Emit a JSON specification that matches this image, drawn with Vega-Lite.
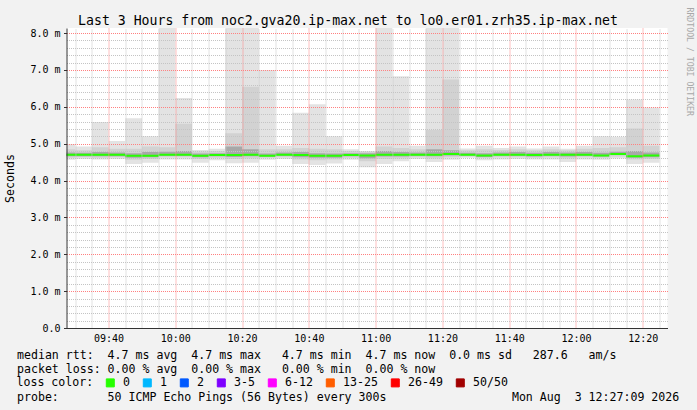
{
  "$schema": "https://vega.github.io/schema/vega-lite/v6.json",
  "width": 601,
  "height": 300,
  "autosize": {"type": "none"},
  "padding": {"left": 66.5, "top": 28, "right": 29.5, "bottom": 82},
  "background": "#f2f2f2",
  "data": {
    "values": [
      {"start": "2026-08-03T09:25:00", "end": "2026-08-03T09:30:00", "min": 4.56, "p10": 4.62, "p25": 4.66, "med": 4.70, "p75": 4.76, "p90": 4.85, "max": 4.99, "loss": "0"},
      {"start": "2026-08-03T09:30:00", "end": "2026-08-03T09:35:00", "min": 4.58, "p10": 4.63, "p25": 4.66, "med": 4.70, "p75": 4.75, "p90": 4.82, "max": 4.92, "loss": "0"},
      {"start": "2026-08-03T09:35:00", "end": "2026-08-03T09:40:00", "min": 4.57, "p10": 4.62, "p25": 4.66, "med": 4.70, "p75": 4.77, "p90": 4.90, "max": 5.59, "loss": "0"},
      {"start": "2026-08-03T09:40:00", "end": "2026-08-03T09:45:00", "min": 4.58, "p10": 4.63, "p25": 4.66, "med": 4.70, "p75": 4.76, "p90": 4.86, "max": 5.07, "loss": "0"},
      {"start": "2026-08-03T09:45:00", "end": "2026-08-03T09:50:00", "min": 4.45, "p10": 4.56, "p25": 4.62, "med": 4.67, "p75": 4.74, "p90": 4.86, "max": 5.69, "loss": "0"},
      {"start": "2026-08-03T09:50:00", "end": "2026-08-03T09:55:00", "min": 4.48, "p10": 4.58, "p25": 4.63, "med": 4.67, "p75": 4.77, "p90": 4.92, "max": 5.20, "loss": "0"},
      {"start": "2026-08-03T09:55:00", "end": "2026-08-03T10:00:00", "min": 4.57, "p10": 4.63, "p25": 4.67, "med": 4.70, "p75": 4.78, "p90": 4.90, "max": 8.60, "loss": "0"},
      {"start": "2026-08-03T10:00:00", "end": "2026-08-03T10:05:00", "min": 4.57, "p10": 4.63, "p25": 4.67, "med": 4.70, "p75": 4.80, "p90": 5.54, "max": 6.24, "loss": "0"},
      {"start": "2026-08-03T10:05:00", "end": "2026-08-03T10:10:00", "min": 4.48, "p10": 4.58, "p25": 4.63, "med": 4.67, "p75": 4.73, "p90": 4.79, "max": 4.83, "loss": "0"},
      {"start": "2026-08-03T10:10:00", "end": "2026-08-03T10:15:00", "min": 4.55, "p10": 4.62, "p25": 4.66, "med": 4.69, "p75": 4.74, "p90": 4.80, "max": 4.86, "loss": "0"},
      {"start": "2026-08-03T10:15:00", "end": "2026-08-03T10:20:00", "min": 4.47, "p10": 4.58, "p25": 4.64, "med": 4.69, "p75": 4.92, "p90": 5.28, "max": 8.60, "loss": "0"},
      {"start": "2026-08-03T10:20:00", "end": "2026-08-03T10:25:00", "min": 4.48, "p10": 4.60, "p25": 4.66, "med": 4.70, "p75": 4.85, "p90": 6.54, "max": 8.60, "loss": "0"},
      {"start": "2026-08-03T10:25:00", "end": "2026-08-03T10:30:00", "min": 4.56, "p10": 4.62, "p25": 4.65, "med": 4.67, "p75": 4.73, "p90": 4.85, "max": 7.00, "loss": "0"},
      {"start": "2026-08-03T10:30:00", "end": "2026-08-03T10:35:00", "min": 4.58, "p10": 4.63, "p25": 4.67, "med": 4.70, "p75": 4.76, "p90": 4.85, "max": 4.94, "loss": "0"},
      {"start": "2026-08-03T10:35:00", "end": "2026-08-03T10:40:00", "min": 4.45, "p10": 4.57, "p25": 4.63, "med": 4.69, "p75": 4.77, "p90": 4.88, "max": 5.84, "loss": "0"},
      {"start": "2026-08-03T10:40:00", "end": "2026-08-03T10:45:00", "min": 4.42, "p10": 4.55, "p25": 4.62, "med": 4.67, "p75": 4.74, "p90": 4.86, "max": 6.07, "loss": "0"},
      {"start": "2026-08-03T10:45:00", "end": "2026-08-03T10:50:00", "min": 4.46, "p10": 4.57, "p25": 4.62, "med": 4.67, "p75": 4.73, "p90": 4.85, "max": 5.20, "loss": "0"},
      {"start": "2026-08-03T10:50:00", "end": "2026-08-03T10:55:00", "min": 4.56, "p10": 4.62, "p25": 4.66, "med": 4.69, "p75": 4.74, "p90": 4.80, "max": 4.85, "loss": "0"},
      {"start": "2026-08-03T10:55:00", "end": "2026-08-03T11:00:00", "min": 4.36, "p10": 4.52, "p25": 4.60, "med": 4.68, "p75": 4.74, "p90": 4.78, "max": 4.80, "loss": "0"},
      {"start": "2026-08-03T11:00:00", "end": "2026-08-03T11:05:00", "min": 4.45, "p10": 4.58, "p25": 4.65, "med": 4.70, "p75": 4.80, "p90": 4.92, "max": 8.60, "loss": "0"},
      {"start": "2026-08-03T11:05:00", "end": "2026-08-03T11:10:00", "min": 4.52, "p10": 4.60, "p25": 4.65, "med": 4.70, "p75": 4.77, "p90": 4.88, "max": 6.83, "loss": "0"},
      {"start": "2026-08-03T11:10:00", "end": "2026-08-03T11:15:00", "min": 4.58, "p10": 4.63, "p25": 4.67, "med": 4.70, "p75": 4.76, "p90": 4.85, "max": 4.94, "loss": "0"},
      {"start": "2026-08-03T11:15:00", "end": "2026-08-03T11:20:00", "min": 4.50, "p10": 4.60, "p25": 4.66, "med": 4.70, "p75": 4.85, "p90": 5.37, "max": 8.60, "loss": "0"},
      {"start": "2026-08-03T11:20:00", "end": "2026-08-03T11:25:00", "min": 4.56, "p10": 4.63, "p25": 4.68, "med": 4.72, "p75": 4.82, "p90": 6.74, "max": 8.60, "loss": "0"},
      {"start": "2026-08-03T11:25:00", "end": "2026-08-03T11:30:00", "min": 4.62, "p10": 4.65, "p25": 4.68, "med": 4.70, "p75": 4.75, "p90": 4.82, "max": 4.87, "loss": "0"},
      {"start": "2026-08-03T11:30:00", "end": "2026-08-03T11:35:00", "min": 4.55, "p10": 4.61, "p25": 4.64, "med": 4.68, "p75": 4.74, "p90": 4.85, "max": 4.94, "loss": "0"},
      {"start": "2026-08-03T11:35:00", "end": "2026-08-03T11:40:00", "min": 4.57, "p10": 4.63, "p25": 4.67, "med": 4.70, "p75": 4.76, "p90": 4.83, "max": 4.88, "loss": "0"},
      {"start": "2026-08-03T11:40:00", "end": "2026-08-03T11:45:00", "min": 4.58, "p10": 4.63, "p25": 4.67, "med": 4.70, "p75": 4.77, "p90": 4.85, "max": 4.92, "loss": "0"},
      {"start": "2026-08-03T11:45:00", "end": "2026-08-03T11:50:00", "min": 4.57, "p10": 4.62, "p25": 4.65, "med": 4.69, "p75": 4.75, "p90": 4.82, "max": 4.87, "loss": "0"},
      {"start": "2026-08-03T11:50:00", "end": "2026-08-03T11:55:00", "min": 4.57, "p10": 4.63, "p25": 4.67, "med": 4.70, "p75": 4.77, "p90": 4.85, "max": 4.92, "loss": "0"},
      {"start": "2026-08-03T11:55:00", "end": "2026-08-03T12:00:00", "min": 4.50, "p10": 4.60, "p25": 4.65, "med": 4.70, "p75": 4.76, "p90": 4.82, "max": 4.86, "loss": "0"},
      {"start": "2026-08-03T12:00:00", "end": "2026-08-03T12:05:00", "min": 4.57, "p10": 4.63, "p25": 4.67, "med": 4.70, "p75": 4.77, "p90": 4.86, "max": 4.94, "loss": "0"},
      {"start": "2026-08-03T12:05:00", "end": "2026-08-03T12:10:00", "min": 4.56, "p10": 4.62, "p25": 4.65, "med": 4.68, "p75": 4.75, "p90": 4.88, "max": 5.20, "loss": "0"},
      {"start": "2026-08-03T12:10:00", "end": "2026-08-03T12:15:00", "min": 4.60, "p10": 4.65, "p25": 4.69, "med": 4.72, "p75": 4.78, "p90": 4.90, "max": 5.19, "loss": "0"},
      {"start": "2026-08-03T12:15:00", "end": "2026-08-03T12:20:00", "min": 4.45, "p10": 4.57, "p25": 4.62, "med": 4.66, "p75": 4.80, "p90": 5.41, "max": 6.20, "loss": "0"},
      {"start": "2026-08-03T12:20:00", "end": "2026-08-03T12:25:00", "min": 4.48, "p10": 4.58, "p25": 4.63, "med": 4.68, "p75": 4.76, "p90": 4.94, "max": 5.98, "loss": "0"}
    ]
  },
  "layer": [
    {
      "mark": {"type": "bar", "color": "#e3e3e3", "clip": true},
      "encoding": {
        "x": {
          "field": "start", "type": "temporal",
          "scale": {"domain": [{"year": 2026, "month": 8, "date": 3, "hours": 9, "minutes": 27, "seconds": 25}, {"year": 2026, "month": 8, "date": 3, "hours": 12, "minutes": 27, "seconds": 25}]},
          "axis": {
            "orient": "top",
            "values": [
              {"year": 2026, "month": 8, "date": 3, "hours": 9, "minutes": 30},
              {"year": 2026, "month": 8, "date": 3, "hours": 9, "minutes": 35},
              {"year": 2026, "month": 8, "date": 3, "hours": 9, "minutes": 45},
              {"year": 2026, "month": 8, "date": 3, "hours": 9, "minutes": 50},
              {"year": 2026, "month": 8, "date": 3, "hours": 9, "minutes": 55},
              {"year": 2026, "month": 8, "date": 3, "hours": 10, "minutes": 5},
              {"year": 2026, "month": 8, "date": 3, "hours": 10, "minutes": 10},
              {"year": 2026, "month": 8, "date": 3, "hours": 10, "minutes": 15},
              {"year": 2026, "month": 8, "date": 3, "hours": 10, "minutes": 25},
              {"year": 2026, "month": 8, "date": 3, "hours": 10, "minutes": 30},
              {"year": 2026, "month": 8, "date": 3, "hours": 10, "minutes": 35},
              {"year": 2026, "month": 8, "date": 3, "hours": 10, "minutes": 45},
              {"year": 2026, "month": 8, "date": 3, "hours": 10, "minutes": 50},
              {"year": 2026, "month": 8, "date": 3, "hours": 10, "minutes": 55},
              {"year": 2026, "month": 8, "date": 3, "hours": 11, "minutes": 5},
              {"year": 2026, "month": 8, "date": 3, "hours": 11, "minutes": 10},
              {"year": 2026, "month": 8, "date": 3, "hours": 11, "minutes": 15},
              {"year": 2026, "month": 8, "date": 3, "hours": 11, "minutes": 25},
              {"year": 2026, "month": 8, "date": 3, "hours": 11, "minutes": 30},
              {"year": 2026, "month": 8, "date": 3, "hours": 11, "minutes": 35},
              {"year": 2026, "month": 8, "date": 3, "hours": 11, "minutes": 45},
              {"year": 2026, "month": 8, "date": 3, "hours": 11, "minutes": 50},
              {"year": 2026, "month": 8, "date": 3, "hours": 11, "minutes": 55},
              {"year": 2026, "month": 8, "date": 3, "hours": 12, "minutes": 5},
              {"year": 2026, "month": 8, "date": 3, "hours": 12, "minutes": 10},
              {"year": 2026, "month": 8, "date": 3, "hours": 12, "minutes": 15},
              {"year": 2026, "month": 8, "date": 3, "hours": 12, "minutes": 25}
            ],
            "grid": true, "gridDash": [1, 1], "gridWidth": 1, "gridColor": "#c4c4c4",
            "labels": false, "ticks": false, "domain": false, "zindex": 1,
            "title": "Last 3 Hours from noc2.gva20.ip-max.net to lo0.er01.zrh35.ip-max.net",
            "titleFont": "DejaVu Sans Mono", "titleFontSize": 13.2, "titleFontWeight": "normal", "titleColor": "#000000",
            "titleX": 281, "titleY": -4, "titleAlign": "center", "titleBaseline": "alphabetic", "titleLimit": 2000
          }
        },
        "x2": {"field": "end"},
        "y": {
          "field": "min", "type": "quantitative",
          "scale": {"domain": [0, 8.136], "nice": false},
          "axis": {
            "orient": "right",
            "values": [0.2, 0.4, 0.6, 0.8, 1.2, 1.4, 1.6, 1.8, 2.2, 2.4, 2.6, 2.8, 3.2, 3.4, 3.6, 3.8, 4.2, 4.4, 4.6, 4.8, 5.2, 5.4, 5.6, 5.8, 6.2, 6.4, 6.6, 6.8, 7.2, 7.4, 7.6, 7.8],
            "grid": true, "gridDash": [1, 1], "gridWidth": 1, "gridColor": "#c4c4c4",
            "labels": false, "ticks": false, "domain": false, "zindex": 1,
            "title": "RRDTOOL / TOBI OETIKER",
            "titleFont": "DejaVu Sans Mono", "titleFontSize": 8.2, "titleFontWeight": "normal", "titleColor": "#a8a8a8",
            "titleAngle": 90, "titleX": 21, "titleY": -21, "titleAlign": "left", "titleBaseline": "middle", "titleLimit": 2000
          }
        },
        "y2": {"field": "max"}
      }
    },
    {
      "mark": {"type": "bar", "color": "#d2d2d2", "clip": true},
      "encoding": {
        "x": {"field": "start", "type": "temporal", "axis": null},
        "x2": {"field": "end"},
        "y": {"field": "p10", "type": "quantitative", "axis": null},
        "y2": {"field": "p90"}
      }
    },
    {
      "mark": {"type": "bar", "color": "#a8a8a8", "clip": true},
      "encoding": {
        "x": {"field": "start", "type": "temporal", "axis": null},
        "x2": {"field": "end"},
        "y": {"field": "p25", "type": "quantitative", "axis": null},
        "y2": {"field": "p75"}
      }
    },
    {
      "mark": {"type": "rule", "strokeWidth": 2, "clip": true},
      "encoding": {
        "x": {
          "field": "start", "type": "temporal",
          "axis": {
            "orient": "bottom",
            "values": [
              {"year": 2026, "month": 8, "date": 3, "hours": 9, "minutes": 40},
              {"year": 2026, "month": 8, "date": 3, "hours": 10, "minutes": 0},
              {"year": 2026, "month": 8, "date": 3, "hours": 10, "minutes": 20},
              {"year": 2026, "month": 8, "date": 3, "hours": 10, "minutes": 40},
              {"year": 2026, "month": 8, "date": 3, "hours": 11, "minutes": 0},
              {"year": 2026, "month": 8, "date": 3, "hours": 11, "minutes": 20},
              {"year": 2026, "month": 8, "date": 3, "hours": 11, "minutes": 40},
              {"year": 2026, "month": 8, "date": 3, "hours": 12, "minutes": 0},
              {"year": 2026, "month": 8, "date": 3, "hours": 12, "minutes": 20}
            ],
            "format": "%H:%M",
            "labelFont": "DejaVu Sans Mono", "labelFontSize": 10, "labelColor": "#000000", "labelPadding": 5,
            "ticks": false, "domain": true, "domainColor": "#333333", "domainWidth": 1,
            "grid": true, "gridColor": "#ff8080", "gridDash": [1, 1], "gridWidth": 1, "zindex": 1,
            "title": [
              "median rtt:\u00a0\u00a04.7 ms avg\u00a0\u00a04.7 ms max\u00a0\u00a0\u00a04.7 ms min\u00a0\u00a04.7 ms now\u00a0\u00a00.0 ms sd\u00a0\u00a0\u00a0287.6\u00a0\u00a0\u00a0am/s",
              "packet loss:\u00a00.00 % avg\u00a0\u00a00.00 % max\u00a0\u00a0\u00a00.00 % min\u00a0\u00a00.00 % now",
              "\u200b",
              "probe:\u00a0\u00a0\u00a0\u00a0\u00a0\u00a0\u00a050 ICMP Echo Pings (56 Bytes) every 300s\u00a0\u00a0\u00a0\u00a0\u00a0\u00a0\u00a0\u00a0\u00a0\u00a0\u00a0\u00a0\u00a0\u00a0\u00a0\u00a0\u00a0\u00a0Mon Aug\u00a0\u00a03 12:27:09 2026"
            ],
            "titleFont": "DejaVu Sans Mono", "titleFontSize": 11.58, "titleFontWeight": "normal", "titleColor": "#000000",
            "titleX": -50, "titleY": 30, "titleAlign": "left", "titleAnchor": "start", "titleBaseline": "alphabetic",
            "titleLineHeight": 14, "titleLimit": 2000
          }
        },
        "x2": {"field": "end"},
        "y": {
          "field": "med", "type": "quantitative",
          "axis": {
            "orient": "left",
            "values": [0, 1, 2, 3, 4, 5, 6, 7, 8],
            "labelExpr": "datum.value == 0 ? '0.0\u00a0\u00a0' : format(datum.value, '.1f') + ' m'",
            "labelFont": "DejaVu Sans Mono", "labelFontSize": 10, "labelColor": "#000000", "labelPadding": 3.5,
            "ticks": true, "tickSize": 3, "tickColor": "#333333",
            "domain": true, "domainColor": "#333333", "domainWidth": 1,
            "grid": true, "gridColor": "#ff8080", "gridDash": [1, 1], "gridWidth": 1, "zindex": 1,
            "title": "Seconds",
            "titleFont": "DejaVu Sans Mono", "titleFontSize": 11.58, "titleFontWeight": "normal", "titleColor": "#000000",
            "titleAngle": 270, "titleX": -56.5, "titleY": 150, "titleAlign": "center", "titleBaseline": "middle"
          }
        },
        "color": {
          "field": "loss", "type": "nominal",
          "scale": {
            "domain": ["0", "1", "2", "3-5", "6-12", "13-25", "26-49", "50/50"],
            "range": ["#26ff00", "#00b8ff", "#0059ff", "#7e00ff", "#ff00ff", "#ff5e00", "#ff0000", "#a10000"]
          },
          "legend": {
            "orient": "none", "legendX": -50, "legendY": 349,
            "direction": "horizontal", "columns": 8,
            "title": "loss color:", "titleOrient": "left", "titlePadding": 11,
            "titleFont": "DejaVu Sans Mono", "titleFontSize": 11.58, "titleFontWeight": "normal", "titleColor": "#000000",
            "labelFont": "DejaVu Sans Mono", "labelFontSize": 11.58, "labelColor": "#000000", "labelOffset": 7,
            "columnPadding": 10, "padding": 0, "symbolType": "square", "symbolSize": 64,
            "symbolStrokeColor": "#000000", "symbolStrokeWidth": 1,
            "encode": {"symbols": {"update": {"fill": {"scale": "color", "field": "value"}, "stroke": {"value": "#000000"}, "strokeWidth": {"value": 1}}}}
          }
        }
      }
    }
  ],
  "resolve": {"axis": {"x": "independent", "y": "independent"}},
  "config": {
    "view": {"fill": "#ffffff", "stroke": null},
    "font": "DejaVu Sans Mono"
  }
}
